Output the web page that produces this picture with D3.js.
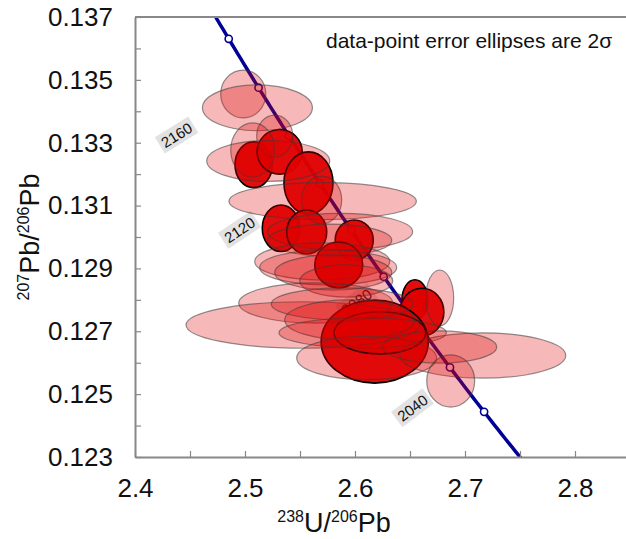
<!DOCTYPE html>
<html><head><meta charset="utf-8">
<script src="https://cdn.jsdelivr.net/npm/d3@7"></script>
<style>
body{margin:0;background:#fff}
text{font-family:"Liberation Sans", Arial, sans-serif;fill:#111}
</style>
</head><body>
<svg id="c" width="626" height="539"></svg>
<script>
// ---- data (2-sigma error ellipses, 238U/206Pb vs 207Pb/206Pb) ----
const lightX  = [2.4984,2.5113,2.5270,2.5070,2.5211,2.5697,2.5706,2.5865,2.5770,2.5702,2.5756,2.5802,2.5920,2.5643,2.5525,2.5884,2.5952,2.6070,2.6106,2.7161,2.6770,2.6870,2.6770];
const lightY  = [0.13455,0.13411,0.13321,0.13277,0.13242,0.13118,0.13114,0.13017,0.12990,0.12922,0.12903,0.12887,0.12860,0.12790,0.12720,0.12787,0.12736,0.12695,0.12615,0.12623,0.12650,0.12542,0.12806];
const lightSX = [0.0205,0.0500,0.0164,0.0200,0.0559,0.0182,0.0852,0.0659,0.0564,0.0614,0.0623,0.0532,0.0423,0.0700,0.1061,0.0645,0.0591,0.0761,0.0636,0.0755,0.0518,0.0218,0.0127];
const lightSY = [0.00076,0.00073,0.00067,0.00086,0.00065,0.00076,0.00059,0.00058,0.00051,0.00059,0.00056,0.00056,0.00051,0.00064,0.00074,0.00051,0.00064,0.00048,0.00069,0.00072,0.00051,0.00083,0.00089];

const solidX  = [2.5079,2.5315,2.5577,2.5327,2.5561,2.5993,2.5852,2.6545,2.6608,2.6179,2.6226];
const solidY  = [0.13230,0.13271,0.13172,0.13028,0.13016,0.12990,0.12911,0.12800,0.12761,0.12667,0.12695];
const solidSX = [0.0170,0.0205,0.0223,0.0170,0.0182,0.0173,0.0218,0.0118,0.0200,0.0487,0.0418];
const solidSY = [0.00073,0.00071,0.00099,0.00074,0.00070,0.00064,0.00073,0.00064,0.00076,0.00132,0.00067];

const markerAges = [2020,2040,2060,2080,2100,2120,2140,2160,2180];
const labelAges  = [2040,2080,2120,2160];
const labelX     = [2.6524,2.6015,2.4952,2.4379];
const labelY     = [0.12456,0.12793,0.13022,0.13324];

const xTickValues = [2.4,2.45,2.5,2.55,2.6,2.65,2.7,2.75,2.8];
const xTickLabels = ["2.4","","2.5","","2.6","","2.7","","2.8"];
const yTickValues = [0.123,0.124,0.125,0.126,0.127,0.128,0.129,0.130,0.131,0.132,0.133,0.134,0.135,0.136,0.137];
const yTickLabels = ["0.123","","0.125","","0.127","","0.129","","0.131","","0.133","","0.135","","0.137"];

// ---- layout ----
const svg = d3.select("#c");
const L = 135, T = 17, R = 630, B = 457;
const x = d3.scaleLinear().domain([2.4, 2.85]).range([L, R]);
const y = d3.scaleLinear().domain([0.123, 0.137]).range([B, T]);

svg.append("defs").append("clipPath").attr("id","clip")
  .append("rect").attr("x",L).attr("y",T).attr("width",R-L).attr("height",B-T);

// concordia (Tera-Wasserburg)
const l238 = 1.55125e-4, l235 = 9.8485e-4, U85 = 137.818;
function conc(t){ const e8=Math.exp(l238*t)-1, e5=Math.exp(l235*t)-1; return [1/e8, e5/e8/U85]; }
const curveAges = d3.range(1980, 2231, 2);
const plot = svg.append("g").attr("clip-path","url(#clip)");

// age labels (under ellipses), perpendicular to the curve
labelAges.forEach((a,i)=>{
  const p1 = conc(a+1), p2 = conc(a-1);
  const ang = Math.atan2(y(p2[1])-y(p1[1]), x(p2[0])-x(p1[0]))*180/Math.PI - 90;
  const g = plot.append("g").attr("transform",`translate(${x(labelX[i])},${y(labelY[i])}) rotate(${ang})`);
  const t = g.append("text").attr("text-anchor","middle").attr("dy","0.35em")
    .style("font-size","15px").text(a);
  const bb = t.node().getBBox();
  g.insert("rect","text").attr("x",bb.x-3).attr("y",bb.y-1).attr("width",bb.width+6).attr("height",bb.height+2)
    .attr("fill","#e2e2e2");
});

plot.append("path")
  .datum(curveAges.map(conc))
  .attr("d", d3.line().x(d=>x(d[0])).y(d=>y(d[1])))
  .attr("fill","none").attr("stroke","#000096").attr("stroke-width",3.5);

plot.selectAll("circle.m").data(markerAges).join("circle")
  .attr("cx",d=>x(conc(d)[0])).attr("cy",d=>y(conc(d)[1])).attr("r",3.6)
  .attr("fill","#fff").attr("stroke","#000096").attr("stroke-width",1.6);

// solid ellipses
plot.selectAll("ellipse.s").data(solidX.map((v,i)=>i)).join("ellipse")
  .attr("cx",i=>x(solidX[i])).attr("cy",i=>y(solidY[i]))
  .attr("rx",i=>x(solidX[i]+solidSX[i])-x(solidX[i]))
  .attr("ry",i=>y(solidY[i])-y(solidY[i]+solidSY[i]))
  .attr("fill","#e00000").attr("fill-opacity",0.95)
  .attr("stroke","#000").attr("stroke-width",1.6);

// light ellipses
plot.selectAll("ellipse.l").data(lightX.map((v,i)=>i)).join("ellipse")
  .attr("cx",i=>x(lightX[i])).attr("cy",i=>y(lightY[i]))
  .attr("rx",i=>x(lightX[i]+lightSX[i])-x(lightX[i]))
  .attr("ry",i=>y(lightY[i])-y(lightY[i]+lightSY[i]))
  .attr("fill","#e00000").attr("fill-opacity",0.28)
  .attr("stroke","#3a3a3a").attr("stroke-opacity",0.55).attr("stroke-width",1.2);

// frame top line
svg.append("line").attr("x1",L).attr("x2",R).attr("y1",T).attr("y2",T)
  .attr("stroke","#888").attr("stroke-width",2);

// axes
const ax = svg.append("g").attr("transform",`translate(0,${B})`)
  .call(d3.axisBottom(x).tickValues(xTickValues).tickFormat((d,i)=>xTickLabels[i])
    .tickSizeInner(-6).tickSizeOuter(0).tickPadding(22));
const ay = svg.append("g").attr("transform",`translate(${L},0)`)
  .call(d3.axisLeft(y).tickValues(yTickValues).tickFormat((d,i)=>yTickLabels[i])
    .tickSizeInner(-6).tickSizeOuter(0).tickPadding(22));
[ax,ay].forEach(g=>{
  g.select(".domain").attr("stroke","#888").attr("stroke-width",2);
  g.selectAll(".tick line").attr("stroke","#888").attr("stroke-width",1.2);
  g.selectAll(".tick text").attr("fill","#111").style("font-size","26px")
    .style("font-family",'"Liberation Sans", Arial, sans-serif');
});

// axis titles
const xt = svg.append("text").attr("x",334).attr("y",532).attr("text-anchor","middle").style("font-size","27px");
xt.append("tspan").text("238").style("font-size","16px").attr("dy","-10");
xt.append("tspan").text("U/").attr("dy","10");
xt.append("tspan").text("206").style("font-size","16px").attr("dy","-10");
xt.append("tspan").text("Pb").attr("dy","10");

const yt = svg.append("text").attr("transform",`translate(39,${(T+B)/2}) rotate(-90)`)
  .attr("text-anchor","middle").style("font-size","27px");
yt.append("tspan").text("207").style("font-size","16px").attr("dy","-10");
yt.append("tspan").text("Pb/").attr("dy","10");
yt.append("tspan").text("206").style("font-size","16px").attr("dy","-10");
yt.append("tspan").text("Pb").attr("dy","10");

// note
svg.append("text").attr("x",326).attr("y",48).style("font-size","21px")
  .text("data-point error ellipses are 2σ");
</script>
</body></html>
